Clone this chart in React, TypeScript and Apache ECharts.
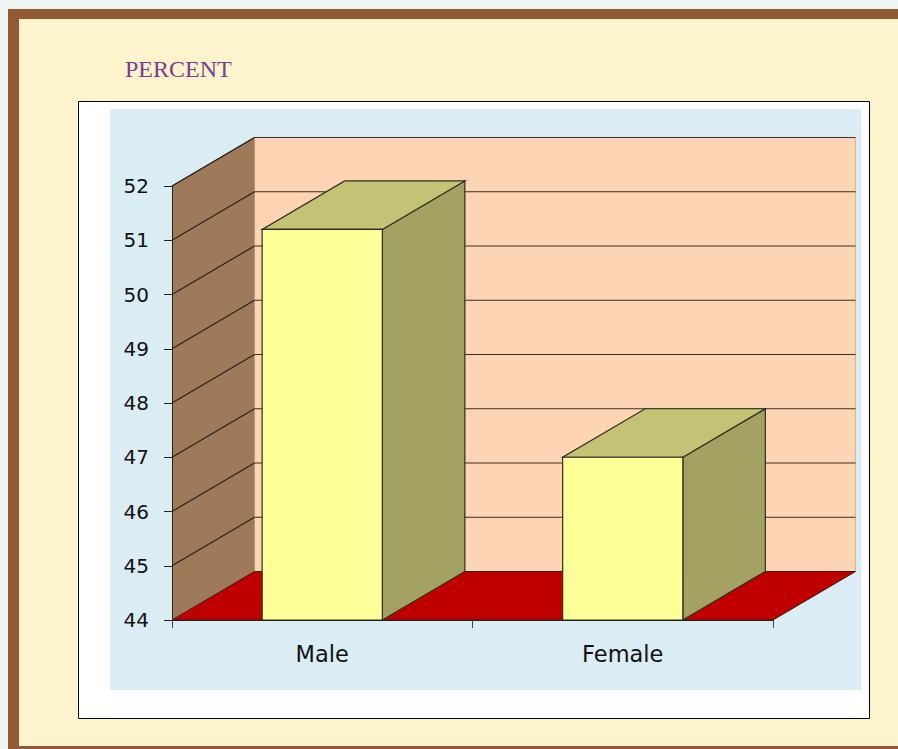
import React, { useEffect, useRef } from "react";
import * as echarts from "echarts";

const categories = ["Male", "Female"];
const percentValues = [51.2, 47.0];
const yMin = 44;
const yMax = 52;
const gridValues = [44, 45, 46, 47, 48, 49, 50, 51, 52];

const DX = 82.5;
const DY = -48.5;

export default function App() {
  const ref = useRef<HTMLDivElement>(null);
  useEffect(() => {
    if (!ref.current) return;
    const chart = echarts.init(ref.current, undefined, { renderer: "svg" });

    const wallSeries = {
      type: "custom",
      coordinateSystem: "cartesian2d",
      silent: true,
      clip: false,
      z: 1,
      data: [[0, yMin]],
      renderItem: (params: any, api: any) => {
        const cs = params.coordSys;
        const x0 = cs.x;
        const x1 = cs.x + cs.width;
        const yTop = api.coord([0, yMax])[1];
        const yBot = api.coord([0, yMin])[1];
        return {
          type: "group",
          children: [
            {
              type: "polygon",
              shape: { points: [[x0 + DX, yTop + DY], [x1 + DX, yTop + DY], [x1 + DX, yBot + DY], [x0 + DX, yBot + DY]] },
              style: { fill: "#fdd4b4", stroke: "#d9b49a", lineWidth: 1 },
            },
            {
              type: "polygon",
              shape: { points: [[x0, yTop], [x0 + DX, yTop + DY], [x0 + DX, yBot + DY], [x0, yBot]] },
              style: { fill: "#9e7a5a" },
            },
            {
              type: "polygon",
              shape: { points: [[x0, yBot], [x1, yBot], [x1 + DX, yBot + DY], [x0 + DX, yBot + DY]] },
              style: { fill: "#c00000", stroke: "#3a1a10", lineWidth: 1 },
            },
            {
              type: "line",
              shape: { x1: x0, y1: yTop, x2: x0 + DX, y2: yTop + DY },
              style: { stroke: "#3b2a20", lineWidth: 1 },
            },
          ],
        };
      },
    };

    const gridSeries = {
      type: "custom",
      coordinateSystem: "cartesian2d",
      silent: true,
      clip: false,
      z: 2,
      data: gridValues.filter((v) => v > yMin).map((v) => [0, v]),
      renderItem: (params: any, api: any) => {
        const cs = params.coordSys;
        const x0 = cs.x;
        const x1 = cs.x + cs.width;
        const y = api.coord([0, api.value(1)])[1];
        return {
          type: "group",
          children: [
            {
              type: "line",
              shape: { x1: x0, y1: y, x2: x0 + DX, y2: y + DY },
              style: { stroke: "#2e2018", lineWidth: 1.2 },
            },
            {
              type: "line",
              shape: { x1: x0 + DX, y1: y + DY, x2: x1 + DX, y2: y + DY },
              style: { stroke: "#3e2e22", lineWidth: 1.2 },
            },
          ],
        };
      },
    };

    const barSeries = {
      type: "custom",
      coordinateSystem: "cartesian2d",
      silent: true,
      clip: false,
      z: 3,
      data: percentValues.map((v, i) => [i, v]),
      renderItem: (params: any, api: any) => {
        const idx = api.value(0);
        const top = api.coord([idx, api.value(1)]);
        const base = api.coord([idx, yMin]);
        const w = api.size([1, 0])[0] * 0.4;
        const xl = top[0] - w / 2;
        const xr = top[0] + w / 2;
        const yt = top[1];
        const yb = base[1];
        const edge = { stroke: "#2e2e1e", lineWidth: 1.2 };
        return {
          type: "group",
          children: [
            {
              type: "polygon",
              shape: { points: [[xr, yt], [xr + DX, yt + DY], [xr + DX, yb + DY], [xr, yb]] },
              style: { fill: "#a4a262", ...edge },
            },
            {
              type: "polygon",
              shape: { points: [[xl, yt], [xr, yt], [xr + DX, yt + DY], [xl + DX, yt + DY]] },
              style: { fill: "#c4c275", ...edge },
            },
            {
              type: "rect",
              shape: { x: xl, y: yt, width: xr - xl, height: yb - yt },
              style: { fill: "#ffff99", ...edge },
            },
          ],
        };
      },
    };

    chart.setOption({
      animation: false,
      backgroundColor: "#edf6f3",
      graphic: [
        { type: "rect", z: -10, shape: { x: 8, y: 9, width: 900, height: 760 }, style: { fill: "#935b35" } },
        { type: "rect", z: -9, shape: { x: 19, y: 19, width: 890, height: 727 }, style: { fill: "#fdf3cc" } },
        { type: "rect", z: -8, shape: { x: 78.5, y: 101.5, width: 791, height: 617 }, style: { fill: "#ffffff", stroke: "#000000", lineWidth: 1 } },
        { type: "rect", z: -7, shape: { x: 110, y: 109, width: 751, height: 581 }, style: { fill: "#daecf4" } },
        {
          type: "text",
          z: -6,
          x: 125,
          y: 57,
          style: {
            text: "PERCENT",
            fill: "#7d3d8f",
            fontFamily: "Liberation Serif",
            fontSize: 24,
            verticalAlign: "top",
            align: "left",
          },
        },
      ],
      grid: { left: 172, top: 186, width: 601, height: 434, containLabel: false },
      xAxis: {
        type: "category",
        data: categories,
        boundaryGap: true,
        z: 10,
        axisLine: { show: true, lineStyle: { color: "#222", width: 1 } },
        axisTick: { show: true, length: 8, alignWithLabel: false, lineStyle: { color: "#444" } },
        axisLabel: { fontFamily: "DejaVu Sans", fontSize: 22.5, color: "#111", margin: 22 },
        splitLine: { show: false },
      },
      yAxis: {
        type: "value",
        min: yMin,
        max: yMax,
        interval: 1,
        z: 10,
        axisLine: { show: true, lineStyle: { color: "#222", width: 1 } },
        axisTick: { show: true, length: 8, lineStyle: { color: "#222" } },
        axisLabel: { fontFamily: "DejaVu Sans", fontSize: 20, color: "#111", margin: 23 },
        splitLine: { show: false },
      },
      series: [wallSeries, gridSeries, barSeries],
    });

    return () => chart.dispose();
  }, []);

  return <div ref={ref} style={{ position: "absolute", left: 0, top: 0, width: 898, height: 749 }} />;
}
